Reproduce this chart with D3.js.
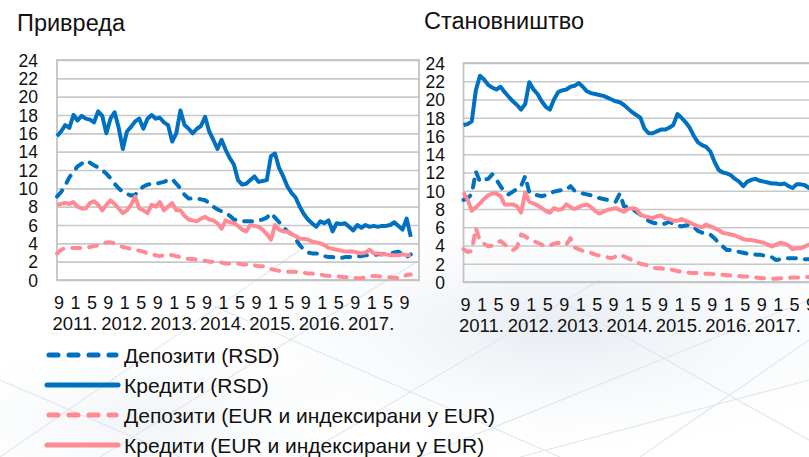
<!DOCTYPE html>
<html><head><meta charset="utf-8">
<script src="https://cdn.jsdelivr.net/npm/d3@7"></script>
<style>
html,body{margin:0;padding:0;background:#fff;overflow:hidden;}
svg{display:block;font-family:"Liberation Sans",Arial,sans-serif;}
</style></head>
<body>
<svg id="c" width="809" height="457"></svg>
<script>
// ---- categories (monthly, Sep 2010 – Jan 2018) ----
const N_MONTHS = 89;
const MONTH_TICKS = ["9","1","5","9","1","5","9","1","5","9","1","5","9","1","5","9","1","5","9","1","5","9"];
const YEAR_TICKS = ["2011.","2012.","2013.","2014.","2015.","2016.","2017."];
const Y_TICKS = [0,2,4,6,8,10,12,14,16,18,20,22,24];
const TITLES = ["Привреда","Становништво"];
const LEGEND = ["Депозити (RSD)","Кредити (RSD)","Депозити (EUR и индексирани у EUR)","Кредити (EUR и индексирани у EUR)"];

// ---- Привреда ----
const DEP_RSD_P = [9.1,9.6,10.3,11.2,11.8,12.4,12.7,13.0,12.8,12.5,12.3,12.0,11.6,11.1,10.5,10.0,9.6,9.4,9.2,9.3,9.8,10.2,10.4,10.5,10.5,10.6,10.7,10.9,11.0,10.5,10.0,9.3,8.9,8.9,8.9,8.8,8.7,8.4,8.0,7.7,7.5,7.3,7.0,6.6,6.5,6.4,6.4,6.4,6.4,6.5,6.6,6.8,7.3,6.8,6.3,5.8,5.3,5.0,4.5,3.8,3.3,3.0,2.9,2.9,2.8,2.6,2.5,2.5,2.4,2.4,2.5,2.5,2.5,2.6,2.6,2.7,2.7,2.7,2.8,2.8,2.9,2.9,3.0,3.1,2.8,2.5,2.8];
const CR_RSD_P = [15.7,16.2,16.9,16.6,18.0,17.4,17.9,17.6,17.5,17.2,18.4,17.9,16.0,17.6,18.3,16.6,14.3,16.2,16.7,17.3,17.6,16.5,17.6,18.0,17.6,17.7,17.2,16.9,15.1,16.0,18.5,16.9,16.5,16.0,16.5,16.8,17.8,16.2,15.3,14.3,15.3,14.2,13.3,12.6,10.9,10.4,10.5,10.9,11.3,10.7,10.8,10.9,13.5,13.8,12.2,11.3,10.2,9.5,9.0,8.0,7.2,6.6,6.2,5.8,6.4,6.2,6.5,5.3,6.2,6.1,6.2,5.8,5.4,6.0,5.7,6.0,5.8,5.9,5.8,5.9,5.9,6.0,6.3,5.9,5.5,6.7,4.7];
const DEP_EUR_P = [2.9,3.3,3.5,3.5,3.5,3.5,3.5,3.5,3.6,3.7,3.8,4.0,4.1,4.1,4.0,3.8,3.6,3.5,3.4,3.3,3.2,3.1,2.9,2.8,2.7,2.6,2.7,2.8,2.7,2.6,2.5,2.4,2.3,2.3,2.2,2.1,2.1,2.0,2.0,1.9,1.9,1.8,1.8,1.8,1.8,1.7,1.7,1.6,1.6,1.5,1.5,1.4,1.2,1.1,1.0,1.0,0.9,0.9,0.9,0.8,0.8,0.7,0.7,0.65,0.6,0.5,0.45,0.4,0.4,0.35,0.3,0.3,0.25,0.2,0.2,0.3,0.4,0.45,0.4,0.35,0.3,0.3,0.25,0.2,0.3,0.55,0.6];
const CR_EUR_P = [8.2,8.3,8.4,8.3,8.5,8.0,7.8,7.8,8.4,8.6,8.2,7.6,8.2,8.7,8.3,7.8,7.3,7.6,8.2,9.1,7.8,7.6,7.3,8.2,8.0,8.5,7.6,8.0,8.4,7.6,7.6,7.0,6.6,6.5,6.4,6.7,6.9,6.6,6.5,6.2,5.6,6.5,6.3,6.2,5.9,5.5,5.3,6.0,5.9,5.8,5.5,5.0,4.4,6.0,5.5,5.3,5.3,5.0,4.8,4.5,4.5,4.4,4.2,4.1,4.0,3.8,3.5,3.4,3.3,3.2,3.1,3.1,3.1,3.0,2.9,3.0,3.3,2.9,2.9,2.8,2.8,2.7,2.7,2.7,2.8,2.7,2.7];

// ---- Становништво ----
const DEP_RSD_S = [9.0,9.2,9.6,12.1,11.0,11.2,11.3,11.8,11.2,10.5,9.8,9.6,9.9,10.2,10.5,11.6,9.8,9.6,9.5,9.4,9.5,9.7,9.9,10.0,10.1,10.1,10.5,10.0,9.8,9.7,9.6,9.5,9.4,9.2,9.1,9.0,8.9,8.8,9.7,8.3,8.2,8.0,7.7,7.4,7.0,6.7,6.5,6.4,6.3,6.4,6.6,6.4,6.2,6.1,6.2,6.3,6.0,5.6,5.4,5.3,5.2,4.8,4.3,3.9,3.5,3.5,3.4,3.3,3.2,3.1,3.1,3.0,3.0,2.9,2.8,2.7,2.4,2.5,2.6,2.6,2.6,2.6,2.6,2.5,2.5,2.5,2.5];
const CR_RSD_S = [17.2,17.3,17.6,21.0,22.6,22.2,21.6,21.3,21.1,21.4,20.8,20.3,19.8,19.4,18.9,19.5,21.9,21.1,20.6,19.8,19.2,18.9,20.0,20.8,21.0,21.1,21.4,21.5,21.8,21.4,20.9,20.7,20.6,20.5,20.4,20.2,20.0,19.8,19.7,19.4,19.0,18.6,18.3,18.0,16.8,16.3,16.3,16.5,16.7,16.7,16.9,17.2,18.4,18.0,17.5,16.9,16.0,15.3,15.0,14.8,14.3,13.2,12.3,12.0,11.9,11.7,11.3,11.0,10.5,11.0,11.2,11.3,11.1,11.0,10.9,10.8,10.8,10.7,10.8,10.5,10.3,10.7,10.7,10.6,10.3,10.4,10.3];
const DEP_EUR_S = [3.6,3.3,3.4,5.9,4.5,4.2,3.9,4.0,4.2,4.5,4.1,3.8,3.5,3.8,5.2,5.0,4.7,4.5,4.3,4.1,3.9,4.0,4.2,4.3,4.2,4.1,4.8,3.8,3.6,3.4,3.3,3.2,3.0,2.9,2.8,2.7,2.6,2.8,3.0,2.8,2.6,2.4,2.2,2.0,1.9,1.8,1.6,1.5,1.5,1.4,1.4,1.3,1.2,1.1,1.1,1.0,1.0,1.0,0.95,0.9,0.9,0.85,0.8,0.8,0.75,0.7,0.7,0.65,0.6,0.6,0.55,0.5,0.45,0.4,0.4,0.35,0.35,0.4,0.45,0.45,0.5,0.5,0.5,0.55,0.55,0.55,0.55];
const CR_EUR_S = [9.8,9.0,7.8,8.2,8.6,9.1,9.5,9.7,9.7,9.4,8.5,8.5,8.5,8.3,7.6,9.8,8.8,8.6,8.4,8.1,7.8,7.6,8.1,7.9,8.0,8.5,8.2,8.0,8.2,8.4,8.5,8.2,7.8,7.5,7.7,7.9,8.0,8.1,7.9,7.7,8.0,8.1,8.0,7.4,7.2,7.1,7.0,7.2,7.3,7.0,6.9,6.7,6.7,6.9,6.7,6.5,6.3,6.1,6.0,6.3,6.1,5.9,5.7,5.4,5.3,5.2,5.1,4.9,4.7,4.6,4.6,4.5,4.4,4.3,4.1,3.9,4.1,4.3,4.2,4.0,3.6,3.7,3.7,3.9,4.1,4.2,4.3];

const BLUE = "#0070c0", PINK = "#ff8a94";
const STYLES = [
  {color: BLUE, dash: true},
  {color: BLUE, dash: false},
  {color: PINK, dash: true},
  {color: PINK, dash: false}
];
const FONT = "Liberation Sans, Arial, sans-serif";

const svg = d3.select("#c");

// faint background watermark
const defs = svg.append("defs");
const rg = defs.append("radialGradient").attr("id","bgc").attr("cx","0.5").attr("cy","0.5").attr("r","0.5");
rg.append("stop").attr("offset","0").attr("stop-color","#dfe6ee").attr("stop-opacity",0.75);
rg.append("stop").attr("offset","1").attr("stop-color","#eef2f6").attr("stop-opacity",0);
svg.append("rect").attr("width",809).attr("height",457).attr("fill","#fff");
svg.append("ellipse").attr("cx",560).attr("cy",330).attr("rx",330).attr("ry",120).attr("fill","url(#bgc)");
svg.append("ellipse").attr("cx",150).attr("cy",420).attr("rx",220).attr("ry",80).attr("fill","url(#bgc)").attr("opacity",0.6);
const wm = svg.append("g").attr("stroke","#e2e7ee").attr("stroke-width",1.2).attr("fill","none");
[[0,457,300,250],[100,457,420,260],[300,457,600,280],[420,457,809,300],[520,457,809,380],[200,300,560,457],[560,300,809,440],[0,380,180,457],[640,457,809,340]].forEach(s=>{
  wm.append("line").attr("x1",s[0]).attr("y1",s[1]).attr("x2",s[2]).attr("y2",s[3]);
});

const panels = [
  {title: TITLES[0], tx: 17, ty: 31, left: 57, top: 60, bottom: 280, labelX: 38,
   series: [DEP_RSD_P, CR_RSD_P, DEP_EUR_P, CR_EUR_P]},
  {title: TITLES[1], tx: 424, ty: 29, left: 463.5, top: 63, bottom: 282, labelX: 445,
   series: [DEP_RSD_S, CR_RSD_S, DEP_EUR_S, CR_EUR_S]}
];
const PW = 362;

panels.forEach(p => {
  const g = svg.append("g");
  const x = d3.scaleLinear().domain([0, N_MONTHS - 1]).range([p.left, p.left + PW]);
  const y = d3.scaleLinear().domain([0, 24]).range([p.bottom, p.top]);

  g.append("text").attr("x", p.tx).attr("y", p.ty).attr("font-size", 23.5).attr("fill", "#111").text(p.title);

  // gridlines
  const grid = g.append("g").attr("transform", `translate(${p.left},0)`)
    .call(d3.axisLeft(y).tickValues(Y_TICKS).tickSize(-PW).tickFormat(""));
  grid.select(".domain").remove();
  grid.selectAll("line").attr("stroke", "#c8c8c8").attr("stroke-width", 1.6);

  // border
  g.append("rect").attr("x", p.left).attr("y", p.top).attr("width", PW).attr("height", p.bottom - p.top)
    .attr("fill", "none").attr("stroke", "#c3c3c3").attr("stroke-width", 1.8);

  // y labels
  const ya = g.append("g").attr("transform", `translate(${p.labelX},0)`)
    .call(d3.axisLeft(y).tickValues(Y_TICKS).tickSize(0).tickPadding(0));
  ya.select(".domain").remove();
  ya.selectAll("text").attr("font-size", 17.5).attr("fill", "#111").attr("font-family", FONT).attr("dy", "0.36em");

  // month labels
  const monthIdx = MONTH_TICKS.map((d, i) => i * 4);
  const xa = g.append("g").attr("transform", `translate(1.5,${p.bottom + 16})`)
    .call(d3.axisBottom(x).tickValues(monthIdx).tickSize(0).tickPadding(0).tickFormat((d, i) => MONTH_TICKS[i]));
  xa.select(".domain").remove();
  xa.selectAll("text").attr("font-size", 18).attr("fill", "#111").attr("font-family", FONT);

  const yearIdx = YEAR_TICKS.map((d, i) => 4 + i * 12);
  const xy = g.append("g").attr("transform", `translate(1,${p.bottom + 37})`)
    .call(d3.axisBottom(x).tickValues(yearIdx).tickSize(0).tickPadding(0).tickFormat((d, i) => YEAR_TICKS[i]));
  xy.select(".domain").remove();
  xy.selectAll("text").attr("font-size", 18.5).attr("fill", "#111").attr("font-family", FONT);

  // lines
  const line = d3.line().x((d, i) => x(i)).y(d => y(d)).curve(d3.curveLinear);
  p.series.forEach((s, k) => {
    const st = STYLES[k];
    g.append("path").datum(s).attr("d", line)
      .attr("fill", "none").attr("stroke", st.color).attr("stroke-width", 4)
      .attr("stroke-linejoin", "round")
      .attr("stroke-linecap", st.dash ? "round" : "butt")
      .attr("stroke-dasharray", st.dash ? "8,9" : null);
  });
});

// legend
const lg = svg.append("g");
LEGEND.forEach((t, k) => {
  const by = 363 + k * 30;
  const st = STYLES[k];
  lg.append("line").attr("x1", st.dash ? 49 : 47).attr("x2", st.dash ? 116 : 118)
    .attr("y1", by - 8).attr("y2", by - 8)
    .attr("stroke", st.color).attr("stroke-width", 5)
    .attr("stroke-linecap", "round")
    .attr("stroke-dasharray", st.dash ? "9,11" : null);
  lg.append("text").attr("x", 124).attr("y", by).attr("font-size", 21).attr("fill", "#111").text(t);
});
</script>
</body></html>
